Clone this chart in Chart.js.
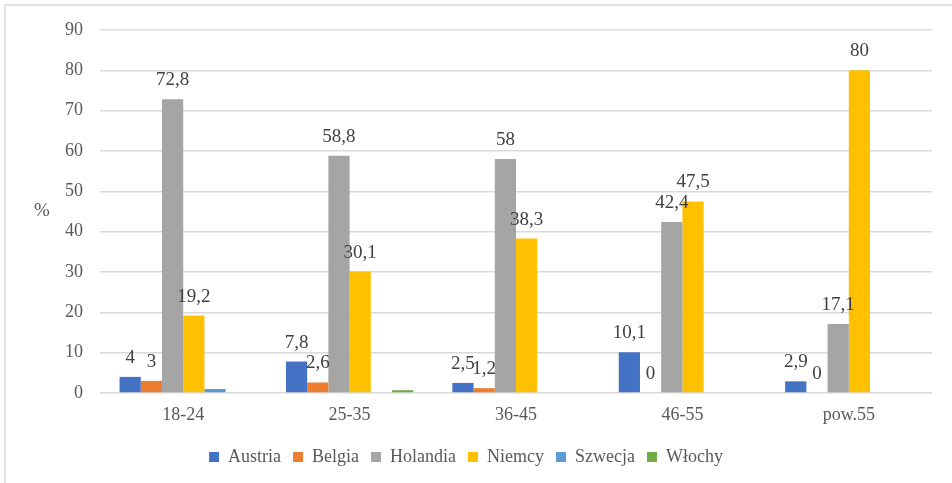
<!DOCTYPE html>
<html>
<head>
<meta charset="utf-8">
<script src="https://cdn.jsdelivr.net/npm/chart.js@4.4.1/dist/chart.umd.min.js"></script>
<style>
  html, body { margin: 0; padding: 0; background: #fff; }
  canvas { display: block; }
</style>
</head>
<body>
<canvas id="chart" width="952" height="483"></canvas>
<script>
// age groups
const ageGroups = ['18-24', '25-35', '36-45', '46-55', 'pow.55'];

// share of respondents per country, %
const austria  = [4, 7.8, 2.5, 10.1, 2.9];
const belgia   = [3, 2.6, 1.2, 0, 0];
const holandia = [72.8, 58.8, 58, 42.4, 17.1];
const niemcy   = [19.2, 30.1, 38.3, 47.5, 80];
const szwecja  = [1, null, null, null, null];
const wlochy   = [null, 0.7, null, null, null];

const yTicks = [0, 10, 20, 30, 40, 50, 60, 70, 80, 90];

const FONT = "'Liberation Serif', 'Times New Roman', serif";
const TEXT = '#595959';

// value labels above bars (only the first four series have them)
const barLabels = {
  id: 'barLabels',
  afterDatasetsDraw(chart) {
    const ctx = chart.ctx;
    ctx.save();
    ctx.font = '19px ' + FONT;
    ctx.fillStyle = '#404040';
    ctx.textAlign = 'center';
    ctx.textBaseline = 'middle';
    chart.data.datasets.forEach((ds, i) => {
      if (i > 3) return;
      const meta = chart.getDatasetMeta(i);
      meta.data.forEach((bar, j) => {
        const v = ds.data[j];
        if (v === null || v === undefined) return;
        ctx.fillText(String(v).replace('.', ','), bar.x, bar.y - 19);
      });
    });
    ctx.restore();
  }
};

// "%" axis name + frame of the chart box
const extras = {
  id: 'extras',
  beforeDraw(chart) {
    const ctx = chart.ctx;
    ctx.save();
    ctx.strokeStyle = '#d9d9d9';
    ctx.lineWidth = 1.5;
    ctx.beginPath();
    ctx.moveTo(5, chart.height);
    ctx.lineTo(5, 5);
    ctx.lineTo(chart.width, 5);
    ctx.stroke();
    ctx.restore();
  },
  afterDraw(chart) {
    const ctx = chart.ctx;
    const a = chart.chartArea;
    ctx.save();
    ctx.font = '19px ' + FONT;
    ctx.fillStyle = TEXT;
    ctx.textAlign = 'center';
    ctx.textBaseline = 'middle';
    ctx.fillText('%', 42, (a.top + a.bottom) / 2);
    ctx.restore();
  }
};

const ds = (label, data, color) => ({
  label, data,
  backgroundColor: color,
  borderWidth: 0,
  categoryPercentage: 0.765,
  barPercentage: 1
});

new Chart(document.getElementById('chart').getContext('2d'), {
  type: 'bar',
  data: {
    labels: ageGroups,
    datasets: [
      ds('Austria', austria, '#4472C4'),
      ds('Belgia', belgia, '#ED7D31'),
      ds('Holandia', holandia, '#A5A5A5'),
      ds('Niemcy', niemcy, '#FFC000'),
      ds('Szwecja', szwecja, '#5B9BD5'),
      ds('Włochy', wlochy, '#70AD47')
    ]
  },
  options: {
    responsive: false,
    animation: false,
    layout: { padding: { left: 0, right: 20, top: 30, bottom: 7 } },
    plugins: {
      legend: {
        position: 'bottom',
        labels: {
          boxWidth: 10,
          boxHeight: 10,
          padding: 12,
          color: TEXT,
          font: { family: FONT, size: 18 }
        }
      },
      tooltip: { enabled: false }
    },
    scales: {
      x: {
        grid: { display: false },
        border: { display: false },
        ticks: { color: TEXT, padding: 3, font: { family: FONT, size: 18 } },
        afterFit(scale) { scale.height = 43; }
      },
      y: {
        min: 0,
        max: 90,
        afterBuildTicks(scale) { scale.ticks = yTicks.map(v => ({ value: v })); },
        grid: { color: '#d9d9d9', lineWidth: 1.5, drawTicks: false },
        border: { display: false },
        ticks: { color: TEXT, padding: 17, font: { family: FONT, size: 18 } },
        afterFit(scale) { scale.width = 100; }
      }
    }
  },
  plugins: [barLabels, extras]
});
</script>
</body>
</html>
